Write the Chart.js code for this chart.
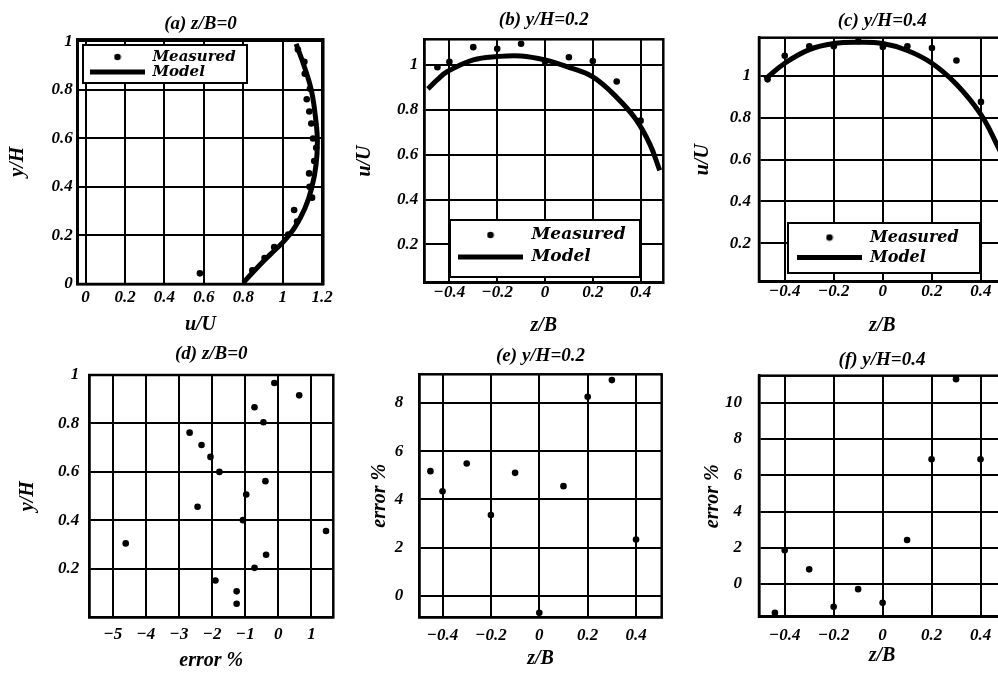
<!DOCTYPE html>
<html>
<head>
<meta charset="utf-8">
<script src="https://cdn.jsdelivr.net/npm/chart.js@4.4.0/dist/chart.umd.min.js"></script>
<style>
  html, body { margin: 0; padding: 0; background: #fff; }
  body { width: 998px; height: 673px; overflow: hidden; position: relative; }
  canvas { position: absolute; }
</style>
</head>
<body>
<canvas id="a"></canvas>
<canvas id="b"></canvas>
<canvas id="c"></canvas>
<canvas id="d"></canvas>
<canvas id="e"></canvas>
<canvas id="f"></canvas>
<script>
// (a) profile at z/B = 0 : u/U against y/H
const aMeasuredU = [1.077, 1.11, 1.112, 1.138, 1.122, 1.135, 1.145, 1.154, 1.17, 1.16, 1.134, 1.136, 1.149, 1.058, 1.073, 1.028, 0.957, 0.908, 0.846, 0.58];
const aMeasuredY = [0.967, 0.916, 0.867, 0.805, 0.762, 0.711, 0.662, 0.60, 0.562, 0.507, 0.456, 0.401, 0.356, 0.305, 0.258, 0.204, 0.152, 0.107, 0.056, 0.044];
const aModelU = [0.80, 0.868, 0.935, 1.003, 1.063, 1.113, 1.147, 1.169, 1.176, 1.169, 1.147, 1.113, 1.068];
const aModelY = [0.005, 0.065, 0.12, 0.174, 0.236, 0.312, 0.395, 0.49, 0.587, 0.669, 0.793, 0.889, 0.99];

// (b) profile at y/H = 0.2 : z/B against u/U
const bMeasuredZ = [-0.45, -0.4, -0.3, -0.2, -0.1, 0, 0.1, 0.2, 0.3, 0.4];
const bMeasuredU = [0.99, 1.015, 1.08, 1.073, 1.095, 1.016, 1.035, 1.018, 0.927, 0.752];
const bModelZ = [-0.49, -0.45, -0.41, -0.3, -0.2, -0.1, 0, 0.1, 0.2, 0.3, 0.38, 0.44, 0.48];
const bModelU = [0.894, 0.935, 0.97, 1.023, 1.038, 1.041, 1.023, 0.99, 0.947, 0.856, 0.758, 0.644, 0.53];

// (c) profile at y/H = 0.4
const cMeasuredZ = [-0.47, -0.4, -0.3, -0.2, -0.1, 0, 0.1, 0.2, 0.3, 0.4];
const cMeasuredU = [0.984, 1.097, 1.142, 1.142, 1.166, 1.139, 1.142, 1.134, 1.074, 0.876];
const cModelZ = [-0.48, -0.4, -0.3, -0.2, -0.1, 0, 0.1, 0.2, 0.3, 0.4, 0.47, 0.51];
const cModelU = [0.984, 1.061, 1.126, 1.155, 1.161, 1.155, 1.122, 1.061, 0.96, 0.815, 0.66, 0.56];

// (d) error % at z/B = 0
const dError = [-0.12, 0.63, -0.72, -0.45, -2.68, -2.32, -2.05, -1.78, -0.39, -0.97, -2.44, -1.07, 1.44, -4.61, -0.37, -0.72, -1.9, -1.26, -1.26];
const dY = [0.967, 0.916, 0.867, 0.805, 0.762, 0.711, 0.662, 0.60, 0.562, 0.507, 0.456, 0.401, 0.356, 0.305, 0.258, 0.204, 0.152, 0.107, 0.056];

// (e) error % at y/H = 0.2
const eZ = [-0.45, -0.4, -0.3, -0.2, -0.1, 0, 0.1, 0.2, 0.3, 0.4];
const eError = [5.17, 4.34, 5.49, 3.35, 5.1, -0.69, 4.55, 8.25, 8.94, 2.34];

// (f) error % at y/H = 0.4
const fZ = [-0.44, -0.4, -0.3, -0.2, -0.1, 0, 0.1, 0.2, 0.3, 0.4];
const fError = [-1.58, 1.87, 0.81, -1.25, -0.28, -1.03, 2.43, 6.88, 11.3, 6.88];

// tick labels
const aXTicks = [0, 0.2, 0.4, 0.6, 0.8, 1, 1.2];
const aYTicks = [0, 0.2, 0.4, 0.6, 0.8, 1];
const uTicks = [0.2, 0.4, 0.6, 0.8, 1];
const zTicks = [-0.4, -0.2, 0, 0.2, 0.4];
const dXTicks = [-5, -4, -3, -2, -1, 0, 1];
const dYTicks = [0.2, 0.4, 0.6, 0.8, 1];
const eYTicks = [0, 2, 4, 6, 8];
const fYTicks = [0, 2, 4, 6, 8, 10];

Chart.defaults.font.family = "'Liberation Serif', 'Times New Roman', serif";
Chart.defaults.font.style = 'italic';
Chart.defaults.font.weight = 'bold';
Chart.defaults.color = '#000';

const TITLE_SIZE = 19, AXIS_TITLE_SIZE = 20, TICK_SIZE = 17;
const TLH = TITLE_SIZE * 1.2, ALH = AXIS_TITLE_SIZE * 1.2;

const pts = (xs, ys) => xs.map((x, i) => ({ x: x, y: ys[i] }));
const fmt = v => String(v).replace('-', '\u2212');

// small dot used as the "Measured" legend symbol
const dot = document.createElement('canvas');
dot.width = dot.height = 8;
const g = dot.getContext('2d');
g.fillStyle = '#000';
g.beginPath(); g.arc(4, 4, 3.3, 0, Math.PI * 2); g.fill();

function measured(data) {
  return { label: 'Measured', data: data, pointRadius: 3.3, pointBackgroundColor: '#000', pointBorderWidth: 0, showLine: false };
}
function model(data) {
  return { label: 'Model', data: data, showLine: true, borderColor: '#000', borderWidth: 5, pointRadius: 0, tension: 0.4, fill: false };
}

// frame round the plot + boxed legend inside it
const frame = {
  id: 'frame',
  afterLayout(chart, args, o) {
    if (!o.box) return;
    const lg = chart.legend, ca = chart.chartArea;
    lg.left = ca.left + o.legendAt[0];
    lg.top = ca.top + o.legendAt[1];
    lg.right = ca.left + o.box[0] + o.box[2];
    lg.bottom = ca.top + o.box[1] + o.box[3] + 30;
    lg.width = lg.right - lg.left;
    lg.height = lg.bottom - lg.top;
  },
  afterDraw(chart, args, o) {
    const ctx = chart.ctx, ca = chart.chartArea;
    ctx.save();
    ctx.strokeStyle = '#000';
    ctx.lineWidth = 2.5;
    ctx.strokeRect(ca.left, ca.top, ca.width, ca.height);
    if (o.box) {
      const [bx, by, bw, bh] = o.box;
      ctx.fillStyle = '#fff';
      ctx.fillRect(ca.left + bx, ca.top + by, bw, bh);
      ctx.lineWidth = 2;
      ctx.strokeRect(ca.left + bx, ca.top + by, bw, bh);
    }
    ctx.restore();
    if (o.box) chart.legend.draw();
  }
};

function axis(pos, range, ticks, title, size, tickPad, titlePad) {
  return {
    type: 'linear', position: pos, min: range[0], max: range[1],
    afterBuildTicks: s => { s.ticks = ticks.map(v => ({ value: v })); },
    afterFit: s => { if (pos === 'left') s.width = size; else s.height = size; },
    grid: { color: '#000', lineWidth: 2, drawTicks: false },
    border: { color: '#000', width: 2.5 },
    ticks: { color: '#000', padding: tickPad, autoSkip: false, maxRotation: 0, font: { size: TICK_SIZE }, callback: v => fmt(v) },
    title: {
      display: true, text: title, color: '#000', font: { size: AXIS_TITLE_SIZE },
      padding: pos === 'left' ? { top: titlePad, bottom: 0 } : { top: 0, bottom: titlePad }
    }
  };
}

const panels = [
  { id: 'a', title: '(a) z/B=0', xTitle: 'u/U', yTitle: 'y/H', sets: [measured(pts(aMeasuredU, aMeasuredY)), model(pts(aModelU, aModelY))],
    plot: [77.7, 39.3, 323.3, 284], at: [0, 0], titleY: 24, xTitleY: 325, yTitleX: 18, xPad: 3, yPad: 5,
    x: [-0.04, 1.206], y: [0, 1.009], xTicks: aXTicks, yTicks: aYTicks,
    legend: { box: [5.3, 5.7, 164, 38], at: [12.3, 10.2], sym: 55, size: 15, pad: 0 } },
  { id: 'b', title: '(b) y/H=0.2', xTitle: 'z/B', yTitle: 'u/U', sets: [measured(pts(bMeasuredZ, bMeasuredU)), model(pts(bModelZ, bModelU))],
    plot: [424.3, 39.3, 663.3, 282.7], at: [344, 0], titleY: 20, xTitleY: 326, yTitleX: 365, xPad: 0, yPad: 6,
    x: [-0.505, 0.495], y: [0.029, 1.115], xTicks: zTicks, yTicks: uTicks,
    legend: { box: [25.7, 180.7, 190, 57], at: [28.7, 182.2], sym: 65, size: 17, pad: 5 } },
  { id: 'c', title: '(c) y/H=0.4', xTitle: 'z/B', yTitle: 'u/U', sets: [measured(pts(cMeasuredZ, cMeasuredU)), model(pts(cModelZ, cModelU))],
    plot: [759, 37.7, 1005.5, 281.7], at: [679, 0], titleY: 21, xTitleY: 326, yTitleX: 703, xPad: 0, yPad: 8,
    x: [-0.505, 0.5], y: [0.0165, 1.183], xTicks: zTicks, yTicks: uTicks,
    legend: { box: [29, 185.3, 192, 50], at: [34, 187.8], sym: 65, size: 16, pad: 4 } },
  { id: 'd', title: '(d) z/B=0', xTitle: 'error %', yTitle: 'y/H', sets: [measured(pts(dError, dY))],
    plot: [89.3, 375, 333.3, 617.3], at: [9, 330], titleY: 354, xTitleY: 661, yTitleX: 28, xPad: 7.5, yPad: 10,
    x: [-5.71, 1.66], y: [0, 1.0], xTicks: dXTicks, yTicks: dYTicks },
  { id: 'e', title: '(e) y/H=0.2', xTitle: 'z/B', yTitle: 'error %', sets: [measured(pts(eZ, eError))],
    plot: [419.3, 374.3, 661.7, 617.3], at: [339, 330], titleY: 356, xTitleY: 659, yTitleX: 380, xPad: 8.5, yPad: 16,
    x: [-0.496, 0.506], y: [-0.88, 9.18], xTicks: zTicks, yTicks: eYTicks },
  { id: 'f', title: '(f) y/H=0.4', xTitle: 'z/B', yTitle: 'error %', sets: [measured(pts(fZ, fError))],
    plot: [759, 375.7, 1005, 616.7], at: [679, 330], titleY: 360, xTitleY: 656, yTitleX: 713, xPad: 9, yPad: 17,
    x: [-0.505, 0.5], y: [-1.8, 11.49], xTicks: zTicks, yTicks: fYTicks }
];

panels.forEach(p => {
  const cv = document.getElementById(p.id);
  const [L, T, R, B] = p.plot;
  const cl = p.at[0], ct = p.at[1];
  const W = Math.ceil(R - cl + 22);
  const H = Math.ceil(p.xTitleY + ALH / 2 + 3 - ct);
  cv.width = W; cv.height = H;
  cv.style.left = cl + 'px'; cv.style.top = ct + 'px';
  cv.style.width = W + 'px'; cv.style.height = H + 'px';

  const pt = p.titleY - ct - TLH / 2;
  const pb = T - ct - pt - TLH;
  const yW = L - cl;
  const xH = H - (B - ct);
  const lg = p.legend;

  new Chart(cv, {
    type: 'scatter',
    data: { datasets: p.sets },
    options: {
      responsive: false,
      animation: false,
      events: [],
      layout: { padding: { right: W - (R - cl) } },
      plugins: {
        title: { display: true, text: p.title, fullSize: false, color: '#000', font: { size: TITLE_SIZE }, padding: { top: pt, bottom: pb } },
        tooltip: { enabled: false },
        legend: lg ? {
          display: true, position: 'chartArea', align: 'start',
          labels: {
            usePointStyle: true, pointStyleWidth: lg.sym, padding: lg.pad, color: '#000',
            font: { family: "'DejaVu Serif', serif", size: lg.size, style: 'italic', weight: 'bold' },
            generateLabels: chart => chart.data.datasets.map((ds, i) => ({
              text: ds.label, datasetIndex: i, hidden: false,
              pointStyle: i === 0 ? dot : 'line',
              fillStyle: '#000', strokeStyle: '#000', fontColor: '#000',
              lineWidth: i === 0 ? 0 : 5, lineCap: 'butt'
            }))
          }
        } : { display: false },
        frame: lg ? { box: lg.box, legendAt: lg.at } : {}
      },
      scales: {
        x: axis('bottom', p.x, p.xTicks, p.xTitle, xH, p.xPad, (ct + H) - p.xTitleY - ALH / 2),
        y: axis('left', p.y, p.yTicks, p.yTitle, yW, p.yPad, p.yTitleX - cl - ALH / 2)
      }
    },
    plugins: [frame]
  });
});
</script>
</body>
</html>
